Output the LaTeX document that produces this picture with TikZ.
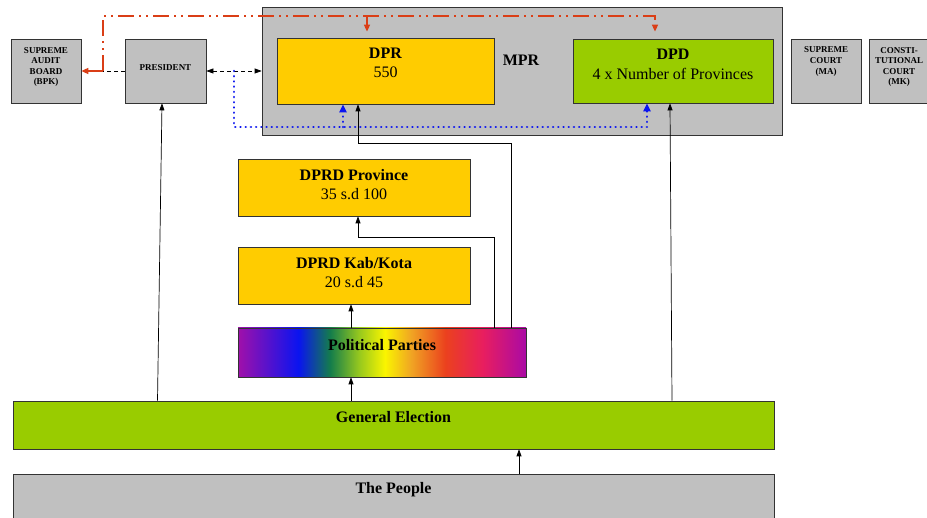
\documentclass[tikz,border=0pt]{standalone}
\usepackage{fontspec}
\setmainfont{Liberation Serif}
\usetikzlibrary{arrows.meta,calc}
\definecolor{boxgray}{RGB}{192,192,192}
\definecolor{dyellow}{RGB}{255,204,0}
\definecolor{dgreen}{RGB}{153,204,0}
\definecolor{dred}{RGB}{218,62,22}
\definecolor{dblue}{RGB}{10,20,240}
\definecolor{rbA}{RGB}{160,16,170}
\definecolor{rbB}{RGB}{10,20,240}
\definecolor{rbC}{RGB}{20,125,75}
\definecolor{rbD}{RGB}{150,200,30}
\definecolor{rbE}{RGB}{250,245,0}
\definecolor{rbF}{RGB}{240,165,35}
\definecolor{rbG}{RGB}{235,65,30}
\definecolor{rbH}{RGB}{232,30,95}
\definecolor{rbI}{RGB}{170,10,165}
\pgfdeclarehorizontalshading{rainbow}{100bp}{color(0bp)=(rbA); color(25bp)=(rbA); color(35.5bp)=(rbB); color(41bp)=(rbC); color(46bp)=(rbD); color(50.5bp)=(rbE); color(55bp)=(rbF); color(61bp)=(rbG); color(67.5bp)=(rbH); color(75bp)=(rbI); color(100bp)=(rbI)}
\begin{document}
\begin{tikzpicture}[x=1pt,y=-1pt,
  box/.style={draw=black!80,line width=0.7pt,inner sep=0pt},
  gbox/.style={box,fill=boxgray},
  ybox/.style={box,fill=dyellow},
  grbox/.style={box,fill=dgreen},
  small/.style={font=\fontsize{9}{10.6}\selectfont\bfseries,align=center,inner sep=0pt},
  big/.style={font=\fontsize{16}{19.5}\selectfont,align=center,inner sep=0pt},
  bigb/.style={big,font=\fontsize{16}{19.5}\selectfont\bfseries},
  tip/.tip={Triangle[length=7pt,width=5pt]},
  arr/.style={draw=black,line width=0.7pt,-tip},
  blackdash/.style={draw=black,line width=0.7pt,dash pattern=on 4pt off 3pt},
  redline/.style={draw=dred,line width=1.5pt,dash pattern=on 16pt off 5pt on 2pt off 5pt on 2pt off 5pt},
  bluedot/.style={draw=dblue,line width=2.6pt,line cap=round,dash pattern=on 0.01pt off 5.2pt}]
\useasboundingbox (0,0) rectangle (927,518);
\clip (0,0) rectangle (927,518);
\fill[white] (0,0) rectangle (927,518);

% boxes
\node[gbox,minimum width=520pt,minimum height=128pt] (mpr) at (522,71) {};
\node[gbox,minimum width=70pt,minimum height=64pt] (bpk) at (46,71) {};
\node[gbox,minimum width=81pt,minimum height=64pt] (pres) at (165.5,71) {};
\node[ybox,minimum width=217pt,minimum height=66pt] (dpr) at (385.5,71) {};
\node[grbox,minimum width=200pt,minimum height=64pt] (dpd) at (673,71) {};
\node[gbox,minimum width=70pt,minimum height=64pt] (ma) at (826,71) {};
\node[gbox,minimum width=70pt,minimum height=64pt] (mk) at (904,71) {};
\node[ybox,minimum width=232pt,minimum height=57pt] (prov) at (354,187.5) {};
\node[ybox,minimum width=232pt,minimum height=57pt] (kab) at (354,275.5) {};
\node[box,shade,shading=rainbow,minimum width=288pt,minimum height=49pt] (parties) at (382,352.5) {};
\node[grbox,minimum width=761pt,minimum height=48pt] (ge) at (393.5,425) {};
\node[gbox,minimum width=761pt,minimum height=60pt] (people) at (393.5,504) {};

% texts
\node[small] (bpkt) at (46,67) {SUPREME\\AUDIT\\BOARD\\(BPK)};
\node[small] (prest) at (165.5,68) {PRESIDENT};
\node[small] (mat) at (826,61.5) {SUPREME\\COURT\\(MA)};
\node[small] (mkt) at (899,67) {CONSTI-\\TUTIONAL\\COURT\\(MK)};
\node[bigb] (mprt) at (521,60) {MPR};
\node[big] (dprt) at (385.5,63) {\textbf{DPR}\\550};
\node[big] (dpdt) at (673,64.5) {\textbf{DPD}\\4 x Number of Provinces};
\node[big] (provt) at (354,184.5) {\textbf{DPRD Province}\\35 s.d 100};
\node[big] (kabt) at (354,272.5) {\textbf{DPRD Kab/Kota}\\20 s.d 45};
\node[bigb] (partiest) at (382,345) {Political Parties};
\node[bigb] (get) at (393.5,417) {General Election};
\node[bigb] (peoplet) at (393.5,490) {The People};

% helper coordinates
\coordinate (c103) at (103,0);
\coordinate (c157) at (157.5,0);
\coordinate (c162) at (162,0);
\coordinate (c234) at (234,0);
\coordinate (c343) at (343,0);
\coordinate (c351) at (351,0);
\coordinate (c358) at (358,0);
\coordinate (c367) at (367,0);
\coordinate (c494) at (494,0);
\coordinate (c511) at (511,0);
\coordinate (c519) at (519,0);
\coordinate (c647) at (647,0);
\coordinate (c655) at (655,0);
\coordinate (c670) at (670,0);
\coordinate (c672) at (672,0);
\coordinate (ctop) at (0,16);
\coordinate (c127) at (0,127);

% black connectors
\draw[arr] (people.north -| c519) -- (ge.south -| c519);
\draw[arr] (ge.north -| c351) -- (parties.south -| c351);
\draw[arr] (parties.north -| c351) -- (kab.south -| c351);
\draw[arr] (parties.north -| c494) -- ++(0,-90) -| (prov.south -| c358);
\draw[arr] (parties.north -| c511) -- ++(0,-184) -| (dpr.south -| c358);
\draw[arr] (ge.north -| c157) -- (pres.south -| c162);
\draw[arr] (ge.north -| c672) -- (dpd.south -| c670);

% dashed president links
\draw[blackdash,tip-tip] (pres.east) -- (mpr.west |- pres.east);
\draw[blackdash] (pres.west) -- (c103 |- pres.west);

% red dash-dot links
\draw[redline,-{Triangle[length=7pt,width=6pt]}] (c103 |- pres.west) -- (bpk.east);
\draw[redline,-{Triangle[length=7pt,width=6pt]}] (c103 |- pres.west) -- (c103 |- ctop) -- (c655 |- ctop) -- ([yshift=7pt]dpd.north -| c655);
\draw[redline,-{Triangle[length=7pt,width=6pt]}] (c367 |- ctop) -- ([yshift=6pt]dpr.north -| c367);

% blue dotted links
\draw[bluedot,-{Triangle[length=8pt,width=7pt]}] (c234 |- pres.east) -- (c234 |- c127) -- (c647 |- c127) -- (dpd.south -| c647);
\draw[bluedot,-{Triangle[length=8pt,width=7pt]}] (c343 |- c127) -- (dpr.south -| c343);
\end{tikzpicture}
\end{document}
